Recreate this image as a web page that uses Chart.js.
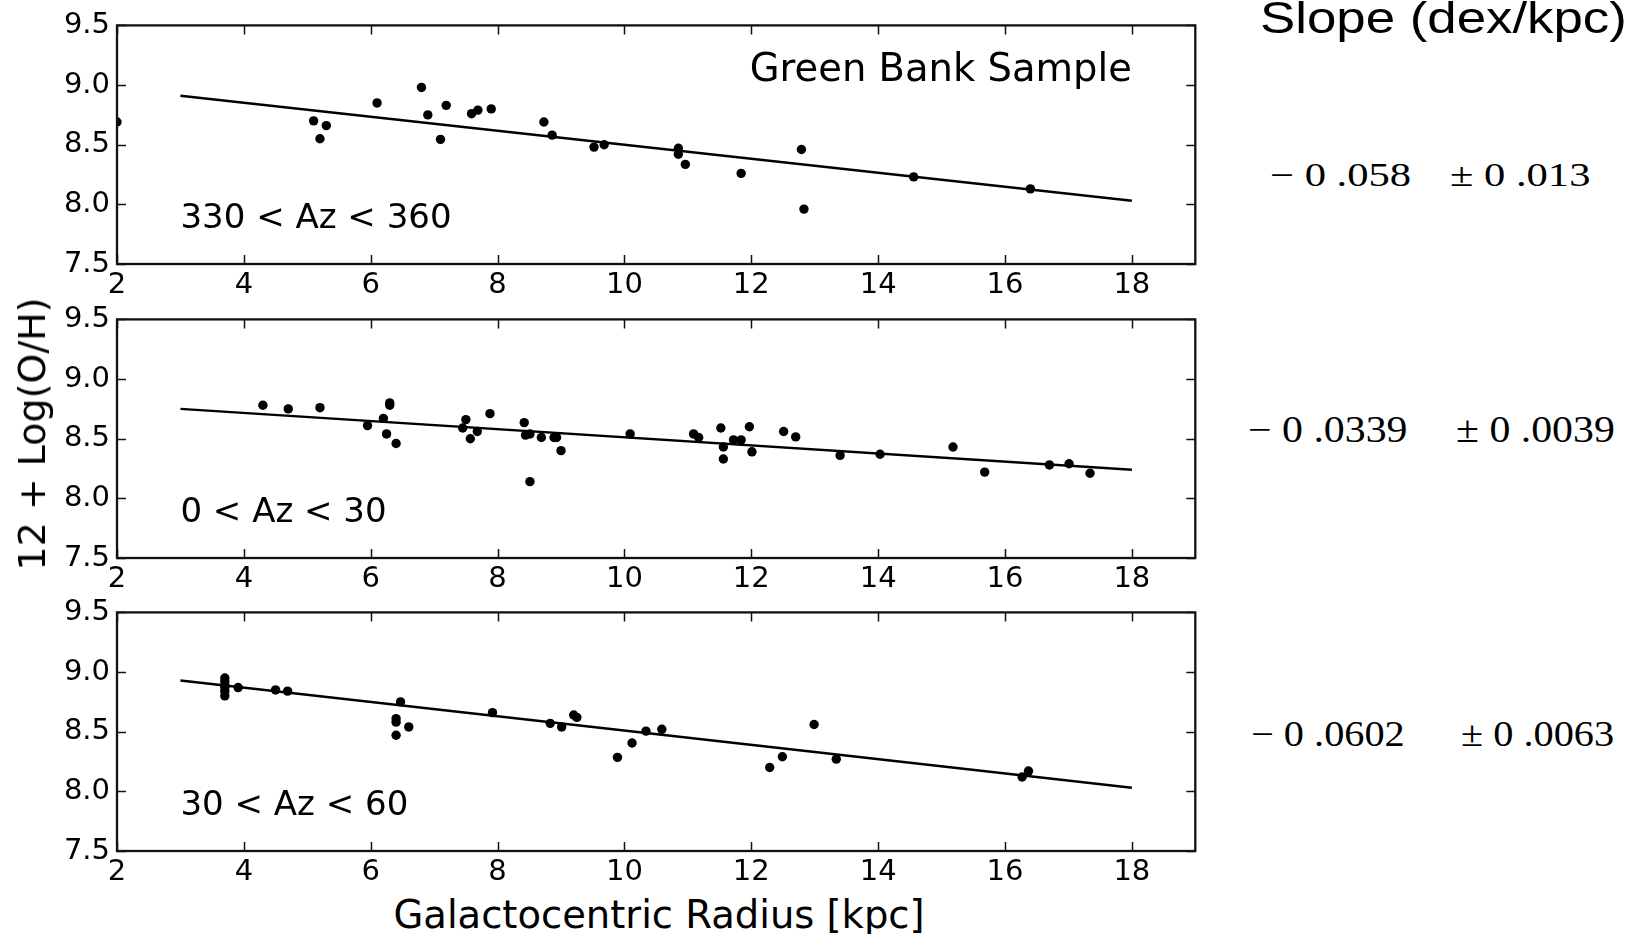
<!DOCTYPE html>
<html>
<head>
<meta charset="utf-8">
<script src="https://cdn.jsdelivr.net/npm/chart.js@4.4.1/dist/chart.umd.min.js"></script>
<style>
  html, body { margin: 0; padding: 0; background: #fff; }
  #fig { position: relative; width: 1642px; height: 934px; overflow: hidden; background: #fff; }
  .panel { position: absolute; left: 0; width: 1200px; height: 303px; }
  .txt { position: absolute; white-space: pre; line-height: 1; color: #000; transform-origin: 0 0; }
  #ylab { font: 38px 'DejaVu Sans'; left: 31.8px; top: 434px; transform-origin: 50% 50%; transform: translate(-50%, -50%) rotate(-90deg); }
  #xlab { font: 38.5px 'DejaVu Sans'; left: 659px; top: 892px; transform: translateX(-50%); }
  #slopeHead { font: 44px 'Liberation Sans'; left: 1260px; top: -7px; transform: scaleX(1.2); }
  .slope { font-family: 'Liberation Serif'; }
</style>
</head>
<body>
<div id="fig">
  <div class="panel" style="top:1px"><canvas id="p1" width="1200" height="303"></canvas></div>
  <div class="panel" style="top:295px"><canvas id="p2" width="1200" height="303"></canvas></div>
  <div class="panel" style="top:588px"><canvas id="p3" width="1200" height="303"></canvas></div>
  <div id="ylab" class="txt">12 + Log(O/H)</div>
  <div id="xlab" class="txt">Galactocentric Radius [kpc]</div>
  <div id="slopeHead" class="txt">Slope (dex/kpc)</div>
</div>
<script>
// --- данные ---

// 330 < Az < 360 (Green Bank Sample)
const rA  = [2.00, 5.10, 5.20, 5.30, 6.10, 6.80, 6.90, 7.10, 7.19, 7.59, 7.69, 7.90, 8.73, 8.86,
             9.52, 9.68, 10.85, 10.85, 10.96, 11.84, 12.79, 12.83, 14.56, 16.40];
const ohA = [8.69, 8.70, 8.55, 8.66, 8.85, 8.98, 8.75, 8.545, 8.83, 8.76, 8.79, 8.80, 8.69, 8.58,
             8.48, 8.50, 8.47, 8.42, 8.335, 8.26, 8.46, 7.96, 8.23, 8.13];

// 0 < Az < 30
const rB  = [4.30, 4.70, 5.20, 5.95, 6.20, 6.30, 6.30, 6.25, 6.40, 7.45, 7.50, 7.57, 7.68, 7.88,
             8.42, 8.44, 8.51, 8.51, 8.69, 8.89, 8.93, 9.00, 10.09, 11.09, 11.17, 11.52, 11.56,
             11.56, 11.72, 11.84, 11.97, 12.01, 12.51, 12.70, 13.40, 14.03, 15.18, 15.68, 16.70,
             17.01, 17.34];
const ohB = [8.78, 8.75, 8.76, 8.61, 8.67, 8.80, 8.78, 8.54, 8.46, 8.59, 8.66, 8.50, 8.56, 8.71,
             8.635, 8.53, 8.54, 8.14, 8.51, 8.51, 8.51, 8.40, 8.54, 8.54, 8.51, 8.59, 8.43,
             8.33, 8.49, 8.49, 8.60, 8.39, 8.56, 8.515, 8.36, 8.37, 8.43, 8.22, 8.28,
             8.29, 8.21];

// 30 < Az < 60
const rC  = [3.70, 3.70, 3.70, 3.70, 3.70, 3.70, 3.91, 4.50, 4.69, 6.47, 6.40, 6.40, 6.40, 6.60,
             7.92, 8.83, 9.01, 9.20, 9.25, 9.89, 10.12, 10.34, 10.59, 12.29, 12.49, 12.99, 13.34,
             16.27, 16.37];
const ohC = [8.95, 8.92, 8.89, 8.87, 8.84, 8.80, 8.87, 8.85, 8.84, 8.75, 8.61, 8.58, 8.47, 8.54,
             8.66, 8.57, 8.54, 8.64, 8.62, 8.285, 8.405, 8.505, 8.52, 8.20, 8.29, 8.56, 8.27,
             8.12, 8.17];

// линии фита: концы
const fitR = [3, 18];
const fitA = [8.91, 8.03];
const fitB = [8.75, 8.24];
const fitC = [8.93, 8.03];

const azLabels = ['330 < Az < 360', '0 < Az < 30', '30 < Az < 60'];
const slopes   = ['\u2212 0 .058', '\u2212 0 .0339', '\u2212 0 .0602'];
const slopeErr = ['\u00b1 0 .013', '\u00b1 0 .0039', '\u00b1 0 .0063'];

// --- рамка и внутренние засечки как в matplotlib ---
const mplFrame = {
  id: 'mplFrame',
  afterDatasetsDraw(chart, args, opts) {
    const { ctx, chartArea: a, scales: { x, y } } = chart;
    ctx.save();
    ctx.strokeStyle = '#111';
    ctx.lineWidth = 1.5;
    ctx.beginPath();
    x.ticks.forEach(t => {
      const px = Math.round(x.getPixelForValue(t.value)) + 0.5;
      ctx.moveTo(px, a.bottom); ctx.lineTo(px, a.bottom - 9);
      ctx.moveTo(px, a.top);    ctx.lineTo(px, a.top + 9);
    });
    y.ticks.forEach(t => {
      const py = Math.round(y.getPixelForValue(t.value)) + 0.5;
      ctx.moveTo(a.left, py);  ctx.lineTo(a.left + 9, py);
      ctx.moveTo(a.right, py); ctx.lineTo(a.right - 9, py);
    });
    ctx.stroke();
    ctx.lineWidth = 2.3;
    ctx.strokeRect(a.left, a.top, a.right - a.left, a.bottom - a.top);

    ctx.fillStyle = '#000';
    ctx.textBaseline = 'alphabetic';
    (opts.notes || []).forEach(n => {
      ctx.font = n.size + 'px "DejaVu Sans"';
      ctx.textAlign = n.align;
      ctx.fillText(n.text, x.getPixelForValue(n.x), y.getPixelForValue(n.y));
    });
    ctx.restore();
  }
};

const tickFont = { family: 'DejaVu Sans', size: 29, lineHeight: 1.2 };

function makePanel(id, r, oh, fit, notes) {
  const pts  = r.map((v, i) => ({ x: v, y: oh[i] }));
  const line = fitR.map((v, i) => ({ x: v, y: fit[i] }));
  return new Chart(document.getElementById(id), {
    type: 'scatter',
    data: { datasets: [
      { data: pts, pointRadius: 4.7, pointHoverRadius: 4.7, backgroundColor: '#000',
        pointBackgroundColor: '#000', pointBorderWidth: 0, borderWidth: 0, clip: 0 },
      { type: 'line', data: line, showLine: true, borderColor: '#000', borderWidth: 2.5,
        pointRadius: 0, fill: false, clip: 0 },
    ]},
    options: {
      responsive: false,
      animation: false,
      events: [],
      layout: { padding: { top: 18, right: 4, left: 0, bottom: 0 } },
      plugins: { legend: { display: false }, tooltip: { enabled: false }, mplFrame: { notes } },
      scales: {
        x: {
          type: 'linear', min: 2, max: 19,
          grid: { display: false, drawTicks: false }, border: { display: false },
          ticks: { stepSize: 2, includeBounds: false, padding: 4, color: '#000', font: tickFont,
                   maxRotation: 0, autoSkip: false },
          afterBuildTicks: s => { s.ticks = s.ticks.filter(t => t.value <= 18); },
          afterFit: s => { s.height = 40; },
        },
        y: {
          type: 'linear', min: 7.5, max: 9.5,
          grid: { display: false, drawTicks: false }, border: { display: false },
          ticks: { stepSize: 0.5, padding: 7, color: '#000', font: tickFont,
                   callback: v => v.toFixed(1) },
          afterFit: s => { s.width = 117; },
        },
      },
    },
    plugins: [mplFrame],
  });
}

makePanel('p1', rA, ohA, fitA, [
  { text: 'Green Bank Sample', x: 18, y: 9.03, align: 'right', size: 38.5 },
  { text: azLabels[0], x: 3, y: 7.8, align: 'left', size: 34 },
]);
makePanel('p2', rB, ohB, fitB, [
  { text: azLabels[1], x: 3, y: 7.8, align: 'left', size: 34 },
]);
makePanel('p3', rC, ohC, fitC, [
  { text: azLabels[2], x: 3, y: 7.8, align: 'left', size: 34 },
]);

// --- колонка с наклонами справа ---
const slopeRows = [
  { left: 1270, pm: 1450, base: 186.7, size: 33, sx: 1.29 },
  { left: 1248, pm: 1456, base: 441.7, size: 37, sx: 1.13 },
  { left: 1251, pm: 1461, base: 746,   size: 36, sx: 1.12 },
];
const fig = document.getElementById('fig');
slopeRows.forEach((row, i) => {
  [[slopes[i], row.left], [slopeErr[i], row.pm]].forEach(([text, left]) => {
    const d = document.createElement('div');
    d.className = 'txt slope';
    d.textContent = text;
    d.style.fontSize = row.size + 'px';
    d.style.left = left + 'px';
    d.style.top = (row.base - 0.8375 * row.size) + 'px';
    d.style.transform = 'scaleX(' + row.sx + ')';
    fig.appendChild(d);
  });
});
</script>
</body>
</html>
